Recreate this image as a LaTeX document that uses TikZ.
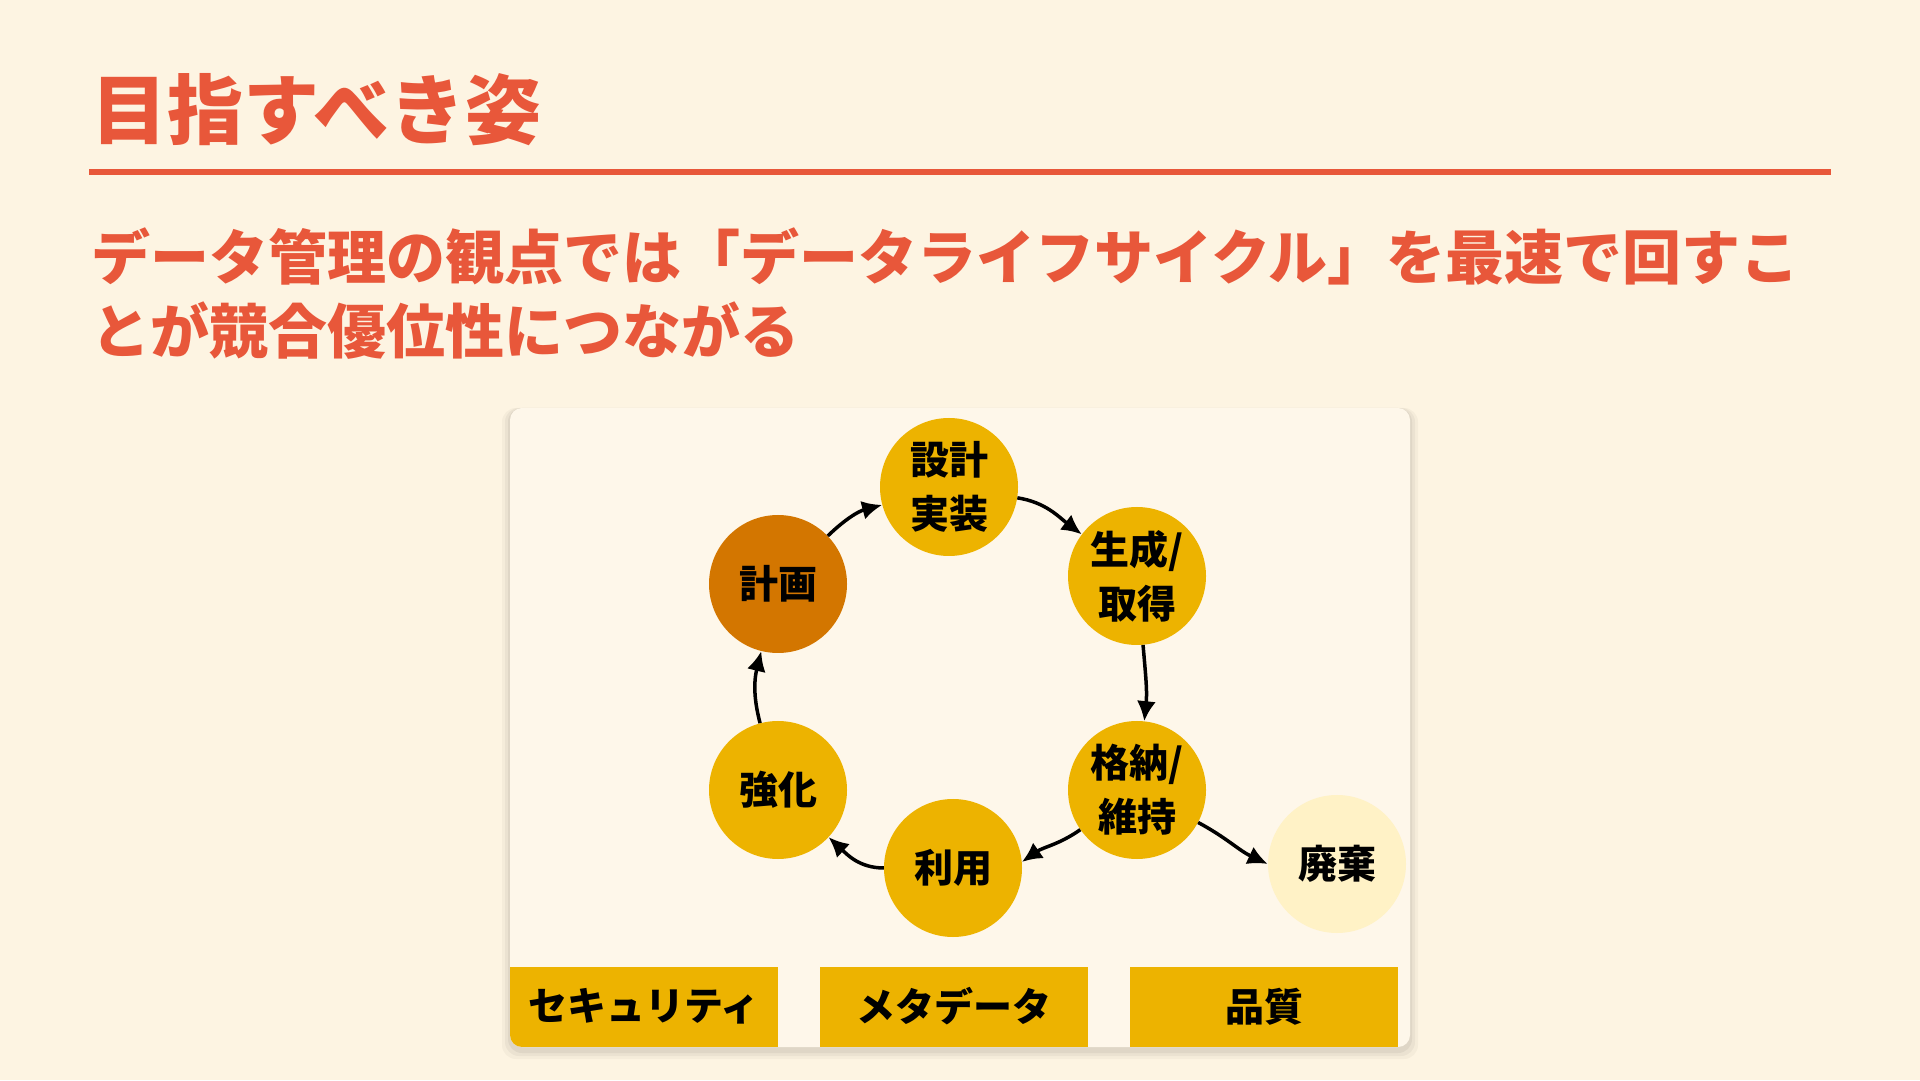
\documentclass[tikz,border=0pt]{standalone}
\usepackage{fontspec}
\setmainfont{Noto Sans CJK JP}
\usetikzlibrary{arrows.meta}
\definecolor{paper}{HTML}{FDF4E2}
\definecolor{card}{HTML}{FEF7EA}
\definecolor{accent}{HTML}{E8573A}
\definecolor{gold}{HTML}{EDB300}
\definecolor{amber}{HTML}{D37600}
\definecolor{cream}{HTML}{FFF2C6}

\begin{document}
\begin{tikzpicture}[x=1pt,y=1pt,
  phase/.style={circle,fill=gold,minimum size=138pt,inner sep=0,align=center,font=\fontsize{39pt}{54pt}\selectfont\bfseries},
  start/.style={phase,fill=amber},
  fade/.style={phase,fill=cream},
  base/.style={fill=gold,minimum width=268pt,minimum height=80pt,inner sep=0,font=\fontsize{39pt}{46pt}\selectfont\bfseries},
  flow/.style={line width=3.5pt,-{Latex[length=20pt,width=19pt]}}]
% page, heading and rule
\fill[paper] (0,0) rectangle (1920,1080);
\useasboundingbox (0,0) rectangle (1920,1080);
\node[anchor=west,inner sep=0,text=accent,font=\fontsize{76pt}{80pt}\selectfont\bfseries] (title) at (91,970) {目指すべき姿};
\draw[accent,line width=6pt] (89,908) -- (1831,908);
\node[anchor=west,inner sep=0,align=left,text=accent,font=\fontsize{59pt}{74pt}\selectfont\bfseries] (lead) at (91,786)
  {データ管理の観点では「データライフサイクル」を最速で回すこ\\とが競合優位性につながる};
% card with a soft shadow
\foreach \s/\o in {8/0.03,5/0.04,2/0.05}{
  \fill[black,opacity=\o,rounded corners=14pt] (510-\s,29-\s) rectangle (1410+\s,672);
}
\fill[card,rounded corners=12pt] (510,33) rectangle (1410,672);
% lifecycle
\node[start] (plan) at (778,496) {計画};
\node[phase] (design) at (949,593) {設計\\実装};
\node[phase] (gen) at (1137,504) {生成/\\取得};
\node[phase] (store) at (1137,290) {格納/\\維持};
\node[phase] (use) at (953,212) {利用};
\node[phase] (boost) at (778,290) {強化};
\node[fade] (disp) at (1337,216) {廃棄};
\foreach \a/\b/\o/\i in {plan/design/44/195,design/gen/-9/143,gen/store/-85/84,
  use/boost/180/317,boost/plan/105/256}{
  \draw[flow] (\a) to[out=\o,in=\i] (\b);
}
\draw[flow] (store) to[out=215,in=35] (use.5);
\draw[flow] (store) to[out=-28,in=155] (disp.west);
% cross-cutting topics along the bottom of the card
\begin{scope}
  \clip[rounded corners=12pt] (510,33) rectangle (1410,672);
  \foreach \n/\x/\txt in {sec/644/セキュリティ,meta/954/メタデータ,qual/1264/品質}
    \node[base] (\n) at (\x,73) {\raisebox{5pt}{\txt}};
\end{scope}
\end{tikzpicture}
\end{document}
